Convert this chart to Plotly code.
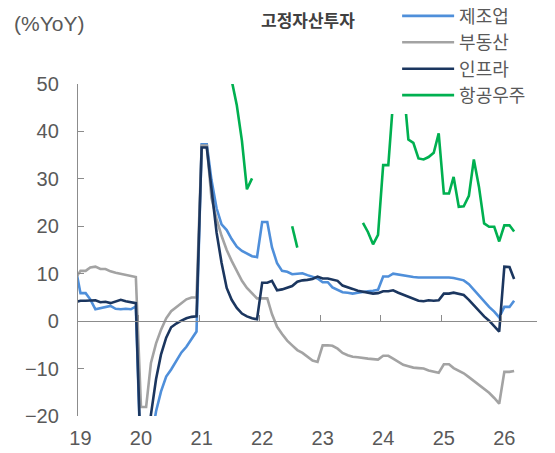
import pandas as pd
import plotly.graph_objects as go

# Monthly points (cumulative YoY), Dec-2018 .. Mar-2026 (Jan repeats Jan-Feb value)
months = [d + pd.Timedelta(days=15) for d in pd.date_range("2018-12-01", "2026-03-01", freq="MS")]

manufacturing = [11.5,
    5.9, 5.9, 4.6, 2.5, 2.7, 3.0, 3.2, 2.6, 2.5, 2.6, 2.5, 3.1,
    -31.5, -31.5, -25.2, -19.0, -14.8, -11.7, -10.2, -8.3, -6.6, -5.4, -3.8, -2.2,
    37.3, 37.3, 29.8, 23.8, 20.4, 19.2, 17.3, 15.7, 14.8, 14.2, 13.7, 13.5,
    20.9, 20.9, 15.6, 12.2, 10.6, 10.4, 9.9, 10.0, 10.1, 9.7, 9.3, 9.0,
    8.2, 8.2, 7.1, 6.5, 6.1, 6.0, 5.8, 6.0, 6.2, 6.3, 6.4, 6.6,
    9.4, 9.4, 10.0, 9.8, 9.7, 9.5, 9.3, 9.2, 9.2, 9.3, 9.3, 9.3,
    9.2, 9.2, 9.1, 8.9, 8.6, 7.8, 6.6, 5.4, 4.3, 3.0, 2.0, 0.8,
    3.0, 3.0, 4.3]

real_estate = [9.0,
    10.6, 10.6, 11.3, 11.5, 11.0, 11.0, 10.5, 10.2, 10.0, 9.8, 9.5, 9.3,
    -18.1, -18.1, -8.8, -4.7, -1.8, 0.6, 2.1, 3.0, 3.9, 4.6, 5.0, 5.0,
    37.0, 37.0, 26.0, 21.5, 18.0, 15.0, 12.7, 10.6, 8.5, 7.0, 5.8, 4.8,
    4.8, 4.8, 1.5, -1.2, -2.7, -4.1, -5.1, -6.1, -6.7, -7.4, -8.3, -8.6,
    -5.1, -5.1, -5.2, -5.8, -6.7, -7.2, -7.5, -7.6, -7.8, -7.9, -8.0, -8.1,
    -7.3, -7.3, -7.9, -8.6, -9.2, -9.5, -9.8, -9.9, -10.0, -10.4, -10.7, -10.9,
    -9.1, -9.1, -9.9, -10.4, -11.0, -11.8, -12.6, -13.4, -14.2, -15.1, -16.2, -17.4,
    -10.7, -10.7, -10.5]

infrastructure = [4.0,
    4.3, 4.3, 4.4, 4.4, 4.0, 4.1, 3.8, 4.2, 4.5, 4.2, 4.0, 3.8,
    -30.3, -30.3, -19.7, -12.2, -7.0, -3.5, -1.3, -0.5, 0.1, 0.6, 0.9, 1.0,
    36.6, 36.6, 28.0, 18.7, 12.3, 7.0, 4.5, 2.8, 1.6, 1.0, 0.6, 0.4,
    8.1, 8.1, 8.5, 6.5, 6.7, 7.1, 7.4, 8.3, 8.6, 8.7, 8.9, 9.4,
    9.0, 9.0, 8.8, 8.5, 7.5, 7.2, 6.8, 6.4, 6.2, 5.9, 5.8, 5.9,
    6.3, 6.3, 6.5, 6.0, 5.6, 5.2, 4.7, 4.3, 4.2, 4.4, 4.3, 4.4,
    5.8, 5.8, 6.0, 5.8, 5.5, 4.5, 3.3, 2.2, 1.0, 0.1, -1.0, -2.2,
    11.5, 11.4, 8.9]

N = None
aerospace = [N,
    N, N, N, N, N, N, N, N, N, N, N, N,
    N, N, N, N, N, N, N, N, N, N, N, N,
    N, N, N, N, N, N, 50.8, 45.5, 38.0, 27.8, 30.1, N,
    N, N, N, N, N, N, 20.0, 15.5, N, N, N, N,
    N, N, N, N, N, N, N, N, 20.7, 18.8, 16.2, 18.2,
    32.9, 32.9, 46.5, 49.0, 50.2, 38.3, 37.6, 34.3, 34.1, 34.6, 35.5, 39.6,
    26.9, 26.9, 30.4, 24.1, 24.2, 26.4, 34.1, 28.3, 20.6, 19.9, 19.9, 16.8,
    20.2, 20.2, 18.9]

series_names = ["제조업", "부동산", "인프라", "항공우주"]
series_colors = ["#4F8FDA", "#A3A3A3", "#1B365F", "#00B050"]

year_ticks = [f"{y}-01-01" for y in range(2019, 2027)]
year_label_pos = [f"{y}-01-16" for y in range(2019, 2027)]
year_labels = [str(y)[2:] for y in range(2019, 2027)]

FONT = "Liberation Sans, Arial, Noto Sans CJK KR, sans-serif"
GREY = "#595959"
AXIS = "#8C8C8C"

fig = go.Figure()
for i, (name, vals, col) in enumerate(zip(series_names, [manufacturing, real_estate, infrastructure, aerospace], series_colors)):
    fig.add_trace(go.Scatter(x=months, y=vals, name=name, mode="lines", legendgroup=f"g{i}",
                             line=dict(color=col, width=2.6), connectgaps=False))

# empty trace to carry the zero-level year axis
fig.add_trace(go.Scatter(x=[], y=[], xaxis="x2", showlegend=False, hoverinfo="skip"))

xr = ["2019-01-01", "2026-08-01"]
# page body has an 8px margin, so the figure is 547x445 to fill the 555x453 window
fig.update_layout(
    width=547, height=445,
    margin=dict(l=70, r=18, t=76, b=37, autoexpand=False),
    paper_bgcolor="white", plot_bgcolor="white",
    font=dict(family=FONT, size=20, color=GREY),
    showlegend=True,
    legend=dict(x=0.680, y=1.26, xanchor="left", yanchor="top",
                bgcolor="white", borderwidth=0, indentation=7,
                font=dict(family="Noto Sans CJK KR, sans-serif", size=18, color=GREY),
                itemwidth=52, tracegroupgap=0),
    xaxis=dict(type="date", range=xr, tickvals=year_label_pos, ticktext=year_labels,
               showline=False, ticks="", showgrid=False, zeroline=False,
               tickfont=dict(size=20, color=GREY), ticklabelstandoff=8),
    xaxis2=dict(type="date", range=xr, overlaying="x", anchor="free", position=2/7,
                tickvals=year_ticks, showticklabels=False, showline=True,
                linecolor=AXIS, linewidth=1.3, ticks="inside", ticklen=6,
                tickcolor=AXIS, tickwidth=1.3, showgrid=False, zeroline=False),
    yaxis=dict(range=[-20, 50], dtick=10, showline=True, linecolor=AXIS, linewidth=1.3,
               ticks="inside", ticklen=6, tickcolor=AXIS, tickwidth=1.3,
               showgrid=False, zeroline=False, tickfont=dict(size=20, color=GREY),
               ticklabelstandoff=14),
    annotations=[
        dict(text="(%YoY)", xref="paper", yref="paper", x=-0.144, y=1.182,
             xanchor="left", yanchor="middle", showarrow=False,
             font=dict(size=21, color=GREY, family=FONT)),
        dict(text="<b>고정자산투자</b>", xref="paper", yref="paper", x=0.501, y=1.193,
             xanchor="center", yanchor="middle", showarrow=False,
             font=dict(size=17, color="#404040", family="Noto Sans CJK KR, sans-serif")),
    ],
)

fig.write_html("out.html")
